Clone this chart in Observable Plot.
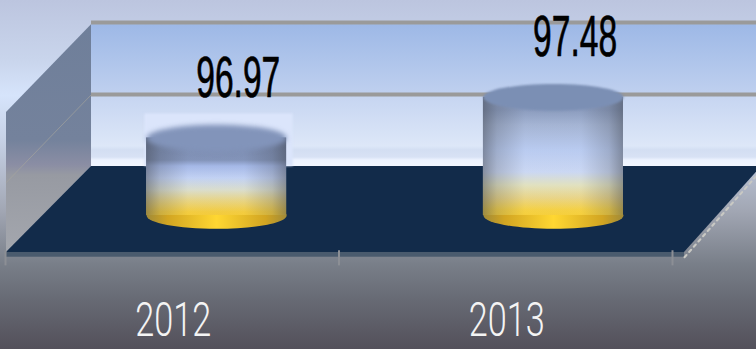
<!DOCTYPE html>
<html>
<head>
<meta charset="utf-8">
<script src="https://cdn.jsdelivr.net/npm/d3@7"></script>
<script src="https://cdn.jsdelivr.net/npm/@observablehq/plot@0.6"></script>
<style>
html,body{margin:0;padding:0;background:#54505a;overflow:hidden}
svg{display:block}
.soft{filter:blur(1px)}
.softer{filter:blur(2.5px)}
</style>
</head>
<body>
<div id="chart"></div>
<script>
const categories = ["2012", "2013"];
const values = [96.97, 97.48];
const gridValues = [97, 98];

// Layout of the pseudo-3D box, in scale units
const floorValue = 96, frontValue = 94.806, depthX = 0.2549, rightBack = 2.264, rightFront = 2.033;
const wallTopValue = 97.97, wallRight = 2.3;
const baseValue = 95.32, heightGain = 1.11;
const cylOffset = 0.63, cylStep = 1.01, halfW = 0.21;
const topOf = v => baseValue + (v - floorValue) * heightGain;
const rows = categories.map((c, i) => ({c, v: values[i], i, cx: cylOffset + i * cylStep, top: topOf(values[i])}));

const stops = s => s.map(([p, c]) => `<stop offset="${p / 349}" stop-color="${c}"/>`).join("");
const vGrad = (id, s) => `<linearGradient id="${id}" gradientUnits="userSpaceOnUse" x1="0" y1="0" x2="0" y2="349">${stops(s)}</linearGradient>`;
const defsHtml =
  vGrad("bg", [[0,"#bcc5df"],[60,"#c9d5ec"],[95,"#d6e4fb"],[140,"#c6d1e6"],[210,"#a2a7b4"],[265,"#787e88"],[300,"#676a74"],[349,"#53505a"]]) +
  vGrad("wall", [[24,"#9db8e6"],[94,"#bfd0ef"],[96,"#c6d5f1"],[146,"#dde7f8"],[150,"#d3def2"],[157,"#d8e2f5"],[160,"#edf3ff"],[166,"#f2f6ff"]]) +
  vGrad("side", [[24,"#6f7f9a"],[140,"#74829c"],[165,"#8b8ea4"],[175,"#979aa2"],[253,"#a4a7ae"]]) +
  vGrad("body0", [[145,"#7f90b6"],[160,"#8596bc"],[166,"#a8bcec"],[178,"#c6d6f8"],[190,"#dfe2d0"],[200,"#ecd98a"],[212,"#f8d040"],[228,"#ffd02a"]]) +
  vGrad("body1", [[110,"#8e9fc2"],[125,"#a8b8d8"],[150,"#bdcff5"],[172,"#cfdcf8"],[185,"#e6e6c4"],[198,"#eed98a"],[210,"#fad545"],[228,"#ffd028"]]) +
  `<linearGradient id="shade" x1="0" x2="1" y1="0" y2="0">
    <stop offset="0" stop-color="#3c4048" stop-opacity=".5"/><stop offset=".1" stop-color="#3c4048" stop-opacity=".24"/>
    <stop offset=".3" stop-color="#3c4048" stop-opacity=".03"/><stop offset=".7" stop-color="#3c4048" stop-opacity=".03"/>
    <stop offset=".9" stop-color="#3c4048" stop-opacity=".24"/><stop offset="1" stop-color="#3c4048" stop-opacity=".5"/>
  </linearGradient>
  <linearGradient id="gold" x1="0" x2="1" y1="0" y2="0">
    <stop offset="0" stop-color="#a08a38"/><stop offset=".15" stop-color="#d2a522"/><stop offset=".5" stop-color="#ffd732"/>
    <stop offset=".85" stop-color="#d2a522"/><stop offset="1" stop-color="#a08a38"/>
  </linearGradient>`;

// Flat ellipse used for the cylinder caps
const ellipse = {draw(ctx, size) {
  const rx = Math.sqrt(size / Math.PI), ry = rx * 0.19, k = 0.5523;
  ctx.moveTo(-rx, 0);
  ctx.bezierCurveTo(-rx, -k * ry, -k * rx, -ry, 0, -ry);
  ctx.bezierCurveTo(k * rx, -ry, rx, -k * ry, rx, 0);
  ctx.bezierCurveTo(rx, k * ry, k * rx, ry, 0, ry);
  ctx.bezierCurveTo(-k * rx, ry, -rx, k * ry, -rx, 0);
  ctx.closePath();
}};

const full = [{x1: -0.1, x2: 2.4, y1: 92, y2: 99}];
const chart = Plot.plot({
  width: 756, height: 349,
  margin: 0,
  x: {domain: [0, 2], range: [6, 673], axis: null},
  y: {domain: [96, 98], range: [166, 22], axis: null},
  style: {background: "none"},
  marks: [
    () => d3.create("svg:defs").html(defsHtml).node(),
    Plot.rect(full, {x1: "x1", x2: "x2", y1: "y1", y2: "y2", fill: "url(#bg)"}),
    // back wall
    Plot.rect([{x1: depthX, x2: wallRight, y1: floorValue, y2: wallTopValue}], {x1: "x1", x2: "x2", y1: "y1", y2: "y2", fill: "url(#wall)"}),
    // left wall
    Plot.areaY([{x: 0, y1: frontValue, y2: 96.75}, {x: depthX, y1: floorValue, y2: wallTopValue}], {x: "x", y1: "y1", y2: "y2", fill: "url(#side)"}),
    Plot.line([{x: 0, y: 95.78}, {x: depthX, y: 97}], {x: "x", y: "y", stroke: "#a9a79c", strokeWidth: 1, strokeOpacity: 0.6}),
    // gridlines
    Plot.ruleY(gridValues, {y: d => d, x1: depthX, x2: wallRight, stroke: "#9a9a9a", strokeWidth: 4}),
    // floor
    Plot.areaX([{y: floorValue, x1: depthX, x2: rightBack}, {y: frontValue, x1: 0, x2: rightFront}], {y: "y", x1: "x1", x2: "x2", fill: "#122b4a"}),
    Plot.rect([{x1: 0, x2: rightFront, y1: frontValue, y2: 94.74}], {x1: "x1", x2: "x2", y1: "y1", y2: "y2", fill: "#4a5b6e"}),
    Plot.line([{x: rightFront, y: 94.74}, {x: rightBack, y: 95.95}], {x: "x", y: "y", stroke: "#c9c9c4", strokeWidth: 2, strokeDasharray: "3 4"}),
    Plot.ruleX([0, 1, 2], {x: d => d - 0.003, y1: 94.62, y2: 94.83, stroke: "#8c8f95", strokeWidth: 2}),
    // halo round the first cylinder
    Plot.rect(rows.slice(0, 1), {x1: d => d.cx - halfW - 0.005, x2: d => d.cx + halfW + 0.02, y1: floorValue, y2: 96.73, fill: "#dbe5fb", className: "soft"}),
    // cylinders: base cap, body, shading, top cap
    Plot.dot(rows, {x: "cx", y: baseValue, r: 70, symbol: ellipse, fill: "url(#gold)"}),
    Plot.rect(rows.slice(0, 1), {x1: d => d.cx - halfW, x2: d => d.cx + halfW, y1: baseValue, y2: "top", fill: "url(#body0)"}),
    Plot.rect(rows.slice(1), {x1: d => d.cx - halfW, x2: d => d.cx + halfW, y1: baseValue, y2: "top", fill: "url(#body1)"}),
    Plot.rect(rows, {x1: d => d.cx - halfW, x2: d => d.cx + halfW, y1: baseValue, y2: "top", fill: "url(#shade)"}),
    Plot.dot(rows.slice(0, 1), {x: "cx", y: "top", r: 70, symbol: ellipse, fill: "#8294ba", className: "softer"}),
    Plot.dot(rows.slice(1), {x: "cx", y: "top", r: 70, symbol: ellipse, fill: "#7b8fb4", className: "soft"}),
    // value labels
    Plot.text(rows, {x: d => d.cx + 0.065, y: "top", text: d => d.v.toFixed(2), dy: -60, fontSize: 58, fill: "#000", stroke: "#000", strokeWidth: 0.7, fontFamily: "Liberation Sans Narrow, Liberation Sans, sans-serif", className: "val"}),
    // category labels
    Plot.text(rows, {x: d => d.i + 0.5, y: 93.861, text: "c", fontSize: 48, fill: "#f4f4f4", fontWeight: 300, fontFamily: "Roboto, sans-serif", className: "cat"})
  ]
});
document.getElementById("chart").append(chart);
d3.select(chart).selectAll(".val text").attr("textLength", 84).attr("lengthAdjust", "spacingAndGlyphs");
d3.select(chart).selectAll(".cat text").attr("textLength", 76).attr("lengthAdjust", "spacingAndGlyphs");
</script>
</body>
</html>
